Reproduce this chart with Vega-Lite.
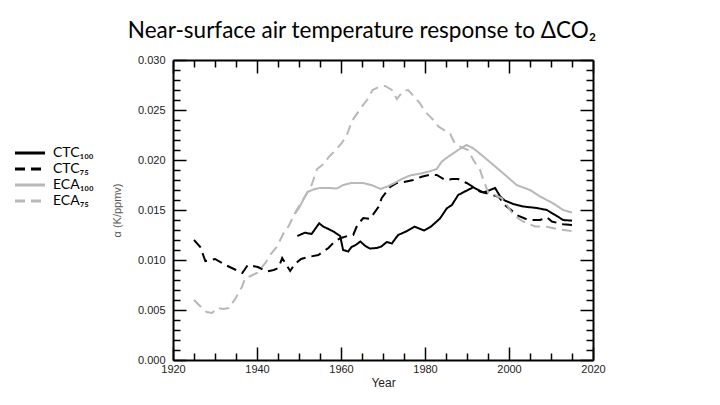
{
  "$schema": "https://vega.github.io/schema/vega-lite/v6.json",
  "width": 420,
  "height": 300,
  "autosize": {"type": "none"},
  "padding": {"left": 173, "top": 60, "right": 127, "bottom": 45},
  "background": "white",
  "title": {
    "text": "Near-surface air temperature response to ΔCO₂",
    "font": "Lato",
    "fontSize": 22.5,
    "fontWeight": "normal",
    "color": "#000000",
    "anchor": "middle",
    "frame": "group",
    "dx": -21,
    "offset": 12
  },
  "config": {
    "view": {"stroke": null},
    "axis": {
      "grid": false,
      "domainColor": "#000000",
      "domainWidth": 2,
      "tickColor": "#000000",
      "tickWidth": 1.5,
      "labelFont": "Liberation Sans",
      "labelFontSize": 11,
      "labelColor": "#222222",
      "titleFont": "Liberation Sans",
      "titleFontSize": 12,
      "titleFontWeight": "normal",
      "titleColor": "#222222",
      "labelFlush": false,
      "labelOverlap": false,
      "labelBound": false
    }
  },
  "data": {
    "values": [
      {"s": "CTC₇₅", "x": 1925, "y": 0.0120},
      {"s": "CTC₇₅", "x": 1926.5, "y": 0.0113},
      {"s": "CTC₇₅", "x": 1927.7, "y": 0.0099},
      {"s": "CTC₇₅", "x": 1929, "y": 0.0100},
      {"s": "CTC₇₅", "x": 1930, "y": 0.0101},
      {"s": "CTC₇₅", "x": 1932.5, "y": 0.0095},
      {"s": "CTC₇₅", "x": 1935, "y": 0.0090},
      {"s": "CTC₇₅", "x": 1936.5, "y": 0.0087},
      {"s": "CTC₇₅", "x": 1937.8, "y": 0.0095},
      {"s": "CTC₇₅", "x": 1939, "y": 0.0094},
      {"s": "CTC₇₅", "x": 1940.2, "y": 0.0093},
      {"s": "CTC₇₅", "x": 1942.4, "y": 0.00885},
      {"s": "CTC₇₅", "x": 1944, "y": 0.0090},
      {"s": "CTC₇₅", "x": 1945.1, "y": 0.0092},
      {"s": "CTC₇₅", "x": 1946, "y": 0.0102},
      {"s": "CTC₇₅", "x": 1947.9, "y": 0.0089},
      {"s": "CTC₇₅", "x": 1949, "y": 0.0096},
      {"s": "CTC₇₅", "x": 1950.5, "y": 0.0101},
      {"s": "CTC₇₅", "x": 1952.2, "y": 0.0103},
      {"s": "CTC₇₅", "x": 1954.6, "y": 0.0105},
      {"s": "CTC₇₅", "x": 1957, "y": 0.0112},
      {"s": "CTC₇₅", "x": 1958.6, "y": 0.0119},
      {"s": "CTC₇₅", "x": 1960, "y": 0.0122},
      {"s": "CTC₇₅", "x": 1961.5, "y": 0.0124},
      {"s": "CTC₇₅", "x": 1962.9, "y": 0.0125},
      {"s": "CTC₇₅", "x": 1963.9, "y": 0.0135},
      {"s": "CTC₇₅", "x": 1965.3, "y": 0.0142},
      {"s": "CTC₇₅", "x": 1966.9, "y": 0.0141},
      {"s": "CTC₇₅", "x": 1968.9, "y": 0.0153},
      {"s": "CTC₇₅", "x": 1969.7, "y": 0.0162},
      {"s": "CTC₇₅", "x": 1971.7, "y": 0.0173},
      {"s": "CTC₇₅", "x": 1973.3, "y": 0.0177},
      {"s": "CTC₇₅", "x": 1975, "y": 0.0178},
      {"s": "CTC₇₅", "x": 1977.2, "y": 0.0180},
      {"s": "CTC₇₅", "x": 1979.2, "y": 0.01833},
      {"s": "CTC₇₅", "x": 1981, "y": 0.0185},
      {"s": "CTC₇₅", "x": 1982.8, "y": 0.0185},
      {"s": "CTC₇₅", "x": 1984.8, "y": 0.0180},
      {"s": "CTC₇₅", "x": 1986.5, "y": 0.0181},
      {"s": "CTC₇₅", "x": 1987.9, "y": 0.0181},
      {"s": "CTC₇₅", "x": 1989.9, "y": 0.0177},
      {"s": "CTC₇₅", "x": 1991.5, "y": 0.0173},
      {"s": "CTC₇₅", "x": 1993.1, "y": 0.01685},
      {"s": "CTC₇₅", "x": 1994.7, "y": 0.01667},
      {"s": "CTC₇₅", "x": 1996, "y": 0.0165},
      {"s": "CTC₇₅", "x": 1997.5, "y": 0.01633},
      {"s": "CTC₇₅", "x": 1999, "y": 0.0155},
      {"s": "CTC₇₅", "x": 2000.5, "y": 0.0150},
      {"s": "CTC₇₅", "x": 2001.8, "y": 0.0145},
      {"s": "CTC₇₅", "x": 2004.2, "y": 0.01407},
      {"s": "CTC₇₅", "x": 2005.8, "y": 0.0140},
      {"s": "CTC₇₅", "x": 2007.4, "y": 0.0140},
      {"s": "CTC₇₅", "x": 2009, "y": 0.01427},
      {"s": "CTC₇₅", "x": 2010.2, "y": 0.01385},
      {"s": "CTC₇₅", "x": 2012.9, "y": 0.01357},
      {"s": "CTC₇₅", "x": 2015, "y": 0.0135},
      {"s": "CTC₁₀₀", "x": 1949.6, "y": 0.0124},
      {"s": "CTC₁₀₀", "x": 1951.4, "y": 0.01273},
      {"s": "CTC₁₀₀", "x": 1953, "y": 0.0126},
      {"s": "CTC₁₀₀", "x": 1954.8, "y": 0.01367},
      {"s": "CTC₁₀₀", "x": 1955.8, "y": 0.01333},
      {"s": "CTC₁₀₀", "x": 1957, "y": 0.0131},
      {"s": "CTC₁₀₀", "x": 1958.2, "y": 0.01285},
      {"s": "CTC₁₀₀", "x": 1959.8, "y": 0.0124},
      {"s": "CTC₁₀₀", "x": 1960.5, "y": 0.0110},
      {"s": "CTC₁₀₀", "x": 1961.7, "y": 0.01085},
      {"s": "CTC₁₀₀", "x": 1962.5, "y": 0.0113},
      {"s": "CTC₁₀₀", "x": 1963.5, "y": 0.0115},
      {"s": "CTC₁₀₀", "x": 1964.6, "y": 0.01185},
      {"s": "CTC₁₀₀", "x": 1965.8, "y": 0.0114},
      {"s": "CTC₁₀₀", "x": 1966.9, "y": 0.01115},
      {"s": "CTC₁₀₀", "x": 1968.5, "y": 0.0112},
      {"s": "CTC₁₀₀", "x": 1969.6, "y": 0.01135},
      {"s": "CTC₁₀₀", "x": 1970.9, "y": 0.0118},
      {"s": "CTC₁₀₀", "x": 1972.1, "y": 0.01165},
      {"s": "CTC₁₀₀", "x": 1973.6, "y": 0.0125},
      {"s": "CTC₁₀₀", "x": 1975.5, "y": 0.01285},
      {"s": "CTC₁₀₀", "x": 1977.5, "y": 0.01333},
      {"s": "CTC₁₀₀", "x": 1979.8, "y": 0.01295},
      {"s": "CTC₁₀₀", "x": 1981.4, "y": 0.01333},
      {"s": "CTC₁₀₀", "x": 1983.6, "y": 0.01417},
      {"s": "CTC₁₀₀", "x": 1985.2, "y": 0.01517},
      {"s": "CTC₁₀₀", "x": 1986.4, "y": 0.0155},
      {"s": "CTC₁₀₀", "x": 1987.9, "y": 0.0165},
      {"s": "CTC₁₀₀", "x": 1989.5, "y": 0.01685},
      {"s": "CTC₁₀₀", "x": 1991.5, "y": 0.01727},
      {"s": "CTC₁₀₀", "x": 1992.7, "y": 0.0170},
      {"s": "CTC₁₀₀", "x": 1993.9, "y": 0.01675},
      {"s": "CTC₁₀₀", "x": 1995.1, "y": 0.01693},
      {"s": "CTC₁₀₀", "x": 1996.7, "y": 0.0172},
      {"s": "CTC₁₀₀", "x": 1997.9, "y": 0.01635},
      {"s": "CTC₁₀₀", "x": 1999, "y": 0.01595},
      {"s": "CTC₁₀₀", "x": 2001, "y": 0.0156},
      {"s": "CTC₁₀₀", "x": 2003.4, "y": 0.01535},
      {"s": "CTC₁₀₀", "x": 2006.6, "y": 0.0152},
      {"s": "CTC₁₀₀", "x": 2009, "y": 0.0150},
      {"s": "CTC₁₀₀", "x": 2011, "y": 0.0145},
      {"s": "CTC₁₀₀", "x": 2012.9, "y": 0.0140},
      {"s": "CTC₁₀₀", "x": 2015, "y": 0.01393},
      {"s": "ECA₁₀₀", "x": 1949, "y": 0.0146},
      {"s": "ECA₁₀₀", "x": 1950, "y": 0.0152},
      {"s": "ECA₁₀₀", "x": 1951, "y": 0.0160},
      {"s": "ECA₁₀₀", "x": 1952, "y": 0.0168},
      {"s": "ECA₁₀₀", "x": 1953.4, "y": 0.01705},
      {"s": "ECA₁₀₀", "x": 1955, "y": 0.0172},
      {"s": "ECA₁₀₀", "x": 1957, "y": 0.0172},
      {"s": "ECA₁₀₀", "x": 1959, "y": 0.01715},
      {"s": "ECA₁₀₀", "x": 1960.5, "y": 0.0175},
      {"s": "ECA₁₀₀", "x": 1962.5, "y": 0.0177},
      {"s": "ECA₁₀₀", "x": 1965.3, "y": 0.0177},
      {"s": "ECA₁₀₀", "x": 1967.5, "y": 0.01745},
      {"s": "ECA₁₀₀", "x": 1969.5, "y": 0.0171},
      {"s": "ECA₁₀₀", "x": 1971.3, "y": 0.0174},
      {"s": "ECA₁₀₀", "x": 1972.5, "y": 0.01765},
      {"s": "ECA₁₀₀", "x": 1974.5, "y": 0.0181},
      {"s": "ECA₁₀₀", "x": 1976.4, "y": 0.01845},
      {"s": "ECA₁₀₀", "x": 1979.2, "y": 0.01867},
      {"s": "ECA₁₀₀", "x": 1981, "y": 0.01885},
      {"s": "ECA₁₀₀", "x": 1982.8, "y": 0.0191},
      {"s": "ECA₁₀₀", "x": 1984, "y": 0.01985},
      {"s": "ECA₁₀₀", "x": 1985.6, "y": 0.02035},
      {"s": "ECA₁₀₀", "x": 1987.9, "y": 0.0210},
      {"s": "ECA₁₀₀", "x": 1989.9, "y": 0.0215},
      {"s": "ECA₁₀₀", "x": 1991.5, "y": 0.02117},
      {"s": "ECA₁₀₀", "x": 1993.9, "y": 0.02035},
      {"s": "ECA₁₀₀", "x": 1996.3, "y": 0.0195},
      {"s": "ECA₁₀₀", "x": 1999.5, "y": 0.01835},
      {"s": "ECA₁₀₀", "x": 2001.8, "y": 0.0175},
      {"s": "ECA₁₀₀", "x": 2005, "y": 0.0170},
      {"s": "ECA₁₀₀", "x": 2007.4, "y": 0.01635},
      {"s": "ECA₁₀₀", "x": 2010.5, "y": 0.01567},
      {"s": "ECA₁₀₀", "x": 2012.9, "y": 0.0150},
      {"s": "ECA₁₀₀", "x": 2015, "y": 0.01475},
      {"s": "ECA₇₅", "x": 1925, "y": 0.0060},
      {"s": "ECA₇₅", "x": 1926.9, "y": 0.0052},
      {"s": "ECA₇₅", "x": 1928, "y": 0.0048},
      {"s": "ECA₇₅", "x": 1929.3, "y": 0.0047},
      {"s": "ECA₇₅", "x": 1930.5, "y": 0.0052},
      {"s": "ECA₇₅", "x": 1932, "y": 0.0051},
      {"s": "ECA₇₅", "x": 1933.3, "y": 0.0052},
      {"s": "ECA₇₅", "x": 1934.8, "y": 0.0061},
      {"s": "ECA₇₅", "x": 1936.4, "y": 0.0073},
      {"s": "ECA₇₅", "x": 1937.2, "y": 0.0082},
      {"s": "ECA₇₅", "x": 1938.5, "y": 0.0084},
      {"s": "ECA₇₅", "x": 1940, "y": 0.0087},
      {"s": "ECA₇₅", "x": 1942, "y": 0.0097},
      {"s": "ECA₇₅", "x": 1943.1, "y": 0.0105},
      {"s": "ECA₇₅", "x": 1944.7, "y": 0.0113},
      {"s": "ECA₇₅", "x": 1946.7, "y": 0.0130},
      {"s": "ECA₇₅", "x": 1947.5, "y": 0.01335},
      {"s": "ECA₇₅", "x": 1949, "y": 0.01467},
      {"s": "ECA₇₅", "x": 1950.3, "y": 0.0156},
      {"s": "ECA₇₅", "x": 1951.8, "y": 0.0166},
      {"s": "ECA₇₅", "x": 1953, "y": 0.0175},
      {"s": "ECA₇₅", "x": 1954.3, "y": 0.0191},
      {"s": "ECA₇₅", "x": 1955.9, "y": 0.0196},
      {"s": "ECA₇₅", "x": 1957.1, "y": 0.0203},
      {"s": "ECA₇₅", "x": 1958.5, "y": 0.0209},
      {"s": "ECA₇₅", "x": 1960.2, "y": 0.0217},
      {"s": "ECA₇₅", "x": 1961.4, "y": 0.0225},
      {"s": "ECA₇₅", "x": 1962.6, "y": 0.0239},
      {"s": "ECA₇₅", "x": 1964.9, "y": 0.0253},
      {"s": "ECA₇₅", "x": 1966.2, "y": 0.0260},
      {"s": "ECA₇₅", "x": 1967.5, "y": 0.0270},
      {"s": "ECA₇₅", "x": 1969.3, "y": 0.02735},
      {"s": "ECA₇₅", "x": 1970.5, "y": 0.0274},
      {"s": "ECA₇₅", "x": 1972.1, "y": 0.0270},
      {"s": "ECA₇₅", "x": 1973.3, "y": 0.0261},
      {"s": "ECA₇₅", "x": 1974.8, "y": 0.0269},
      {"s": "ECA₇₅", "x": 1976, "y": 0.0270},
      {"s": "ECA₇₅", "x": 1978.8, "y": 0.02567},
      {"s": "ECA₇₅", "x": 1980, "y": 0.02485},
      {"s": "ECA₇₅", "x": 1982, "y": 0.0240},
      {"s": "ECA₇₅", "x": 1983.2, "y": 0.02335},
      {"s": "ECA₇₅", "x": 1986, "y": 0.0226},
      {"s": "ECA₇₅", "x": 1987.1, "y": 0.02167},
      {"s": "ECA₇₅", "x": 1989, "y": 0.0212},
      {"s": "ECA₇₅", "x": 1990.3, "y": 0.0210},
      {"s": "ECA₇₅", "x": 1991.5, "y": 0.0200},
      {"s": "ECA₇₅", "x": 1993.1, "y": 0.0190},
      {"s": "ECA₇₅", "x": 1993.9, "y": 0.0180},
      {"s": "ECA₇₅", "x": 1995.1, "y": 0.0167},
      {"s": "ECA₇₅", "x": 1996.7, "y": 0.0165},
      {"s": "ECA₇₅", "x": 1998.3, "y": 0.01617},
      {"s": "ECA₇₅", "x": 1999.5, "y": 0.0155},
      {"s": "ECA₇₅", "x": 2001, "y": 0.0145},
      {"s": "ECA₇₅", "x": 2003.4, "y": 0.01385},
      {"s": "ECA₇₅", "x": 2006.2, "y": 0.01335},
      {"s": "ECA₇₅", "x": 2009, "y": 0.01333},
      {"s": "ECA₇₅", "x": 2011.7, "y": 0.01307},
      {"s": "ECA₇₅", "x": 2014.9, "y": 0.0129}
    ]
  },
  "layer": [
    {
      "mark": {"type": "line", "strokeWidth": 2, "clip": true},
      "encoding": {
        "x": {
          "field": "x", "type": "quantitative",
          "scale": {"domain": [1920, 2020], "nice": false, "zero": false},
          "axis": {
            "orient": "bottom",
            "title": "Year",
            "values": [1920,1925,1930,1935,1940,1945,1950,1955,1960,1965,1970,1975,1980,1985,1990,1995,2000,2005,2010,2015,2020],
            "labelExpr": "datum.value % 20 === 0 ? format(datum.value, 'd') : ''",
            "tickSize": {"condition": {"test": "datum.value % 20 === 0", "value": -13}, "value": -7},
            "labelPadding": 16,
            "titlePadding": -3
          }
        },
        "y": {
          "field": "y", "type": "quantitative",
          "scale": {"domain": [0, 0.03], "nice": false},
          "axis": {
            "orient": "left",
            "title": "α (K/ppmv)",
            "titleFontSize": 11,
            "titleColor": "#555555",
            "values": [0,0.001,0.002,0.003,0.004,0.005,0.006,0.007,0.008,0.009,0.010,0.011,0.012,0.013,0.014,0.015,0.016,0.017,0.018,0.019,0.020,0.021,0.022,0.023,0.024,0.025,0.026,0.027,0.028,0.029,0.030],
            "labelExpr": "round(datum.value*1000) % 5 === 0 ? format(datum.value, '.3f') : ''",
            "tickSize": {"condition": {"test": "round(datum.value*1000) % 5 === 0", "value": -13}, "value": -7},
            "labelPadding": 21,
            "titlePadding": 15
          }
        },
        "color": {
          "field": "s", "type": "nominal",
          "scale": {"domain": ["CTC₁₀₀", "CTC₇₅", "ECA₁₀₀", "ECA₇₅"], "range": ["#000000", "#000000", "#b8b8b8", "#b8b8b8"]},
          "legend": {
            "title": null,
            "orient": "none",
            "legendX": -150,
            "legendY": 86,
            "symbolType": "M-3,0H3",
            "symbolSize": 100,
            "symbolStrokeWidth": 3,
            "labelFont": "Lato",
            "labelFontSize": 14,
            "labelColor": "#000000",
            "labelOffset": 16,
            "rowPadding": 2
          }
        },
        "strokeDash": {
          "field": "s", "type": "nominal",
          "scale": {"domain": ["CTC₁₀₀", "CTC₇₅", "ECA₁₀₀", "ECA₇₅"], "range": [[1, 0], [10, 6], [1, 0], [10, 6]]},
          "legend": {
            "title": null,
            "orient": "none",
            "legendX": -150,
            "legendY": 86,
            "symbolType": "M-3,0H3",
            "symbolSize": 100,
            "symbolStrokeWidth": 3,
            "labelFont": "Lato",
            "labelFontSize": 14,
            "labelColor": "#000000",
            "labelOffset": 16,
            "rowPadding": 2
          }
        }
      }
    },
    {
      "mark": {"type": "point", "opacity": 0},
      "encoding": {
        "x": {
          "field": "x", "type": "quantitative",
          "scale": {"domain": [1920, 2020], "nice": false, "zero": false},
          "axis": {
            "orient": "top",
            "title": null,
            "labels": false,
            "values": [1920,1925,1930,1935,1940,1945,1950,1955,1960,1965,1970,1975,1980,1985,1990,1995,2000,2005,2010,2015,2020],
            "tickSize": {"condition": {"test": "datum.value % 20 === 0", "value": -13}, "value": -7}
          }
        },
        "y": {
          "field": "y", "type": "quantitative",
          "scale": {"domain": [0, 0.03], "nice": false},
          "axis": {
            "orient": "right",
            "title": null,
            "labels": false,
            "values": [0,0.001,0.002,0.003,0.004,0.005,0.006,0.007,0.008,0.009,0.010,0.011,0.012,0.013,0.014,0.015,0.016,0.017,0.018,0.019,0.020,0.021,0.022,0.023,0.024,0.025,0.026,0.027,0.028,0.029,0.030],
            "tickSize": {"condition": {"test": "round(datum.value*1000) % 5 === 0", "value": -13}, "value": -7}
          }
        }
      }
    }
  ],
  "resolve": {"axis": {"x": "independent", "y": "independent"}}
}
